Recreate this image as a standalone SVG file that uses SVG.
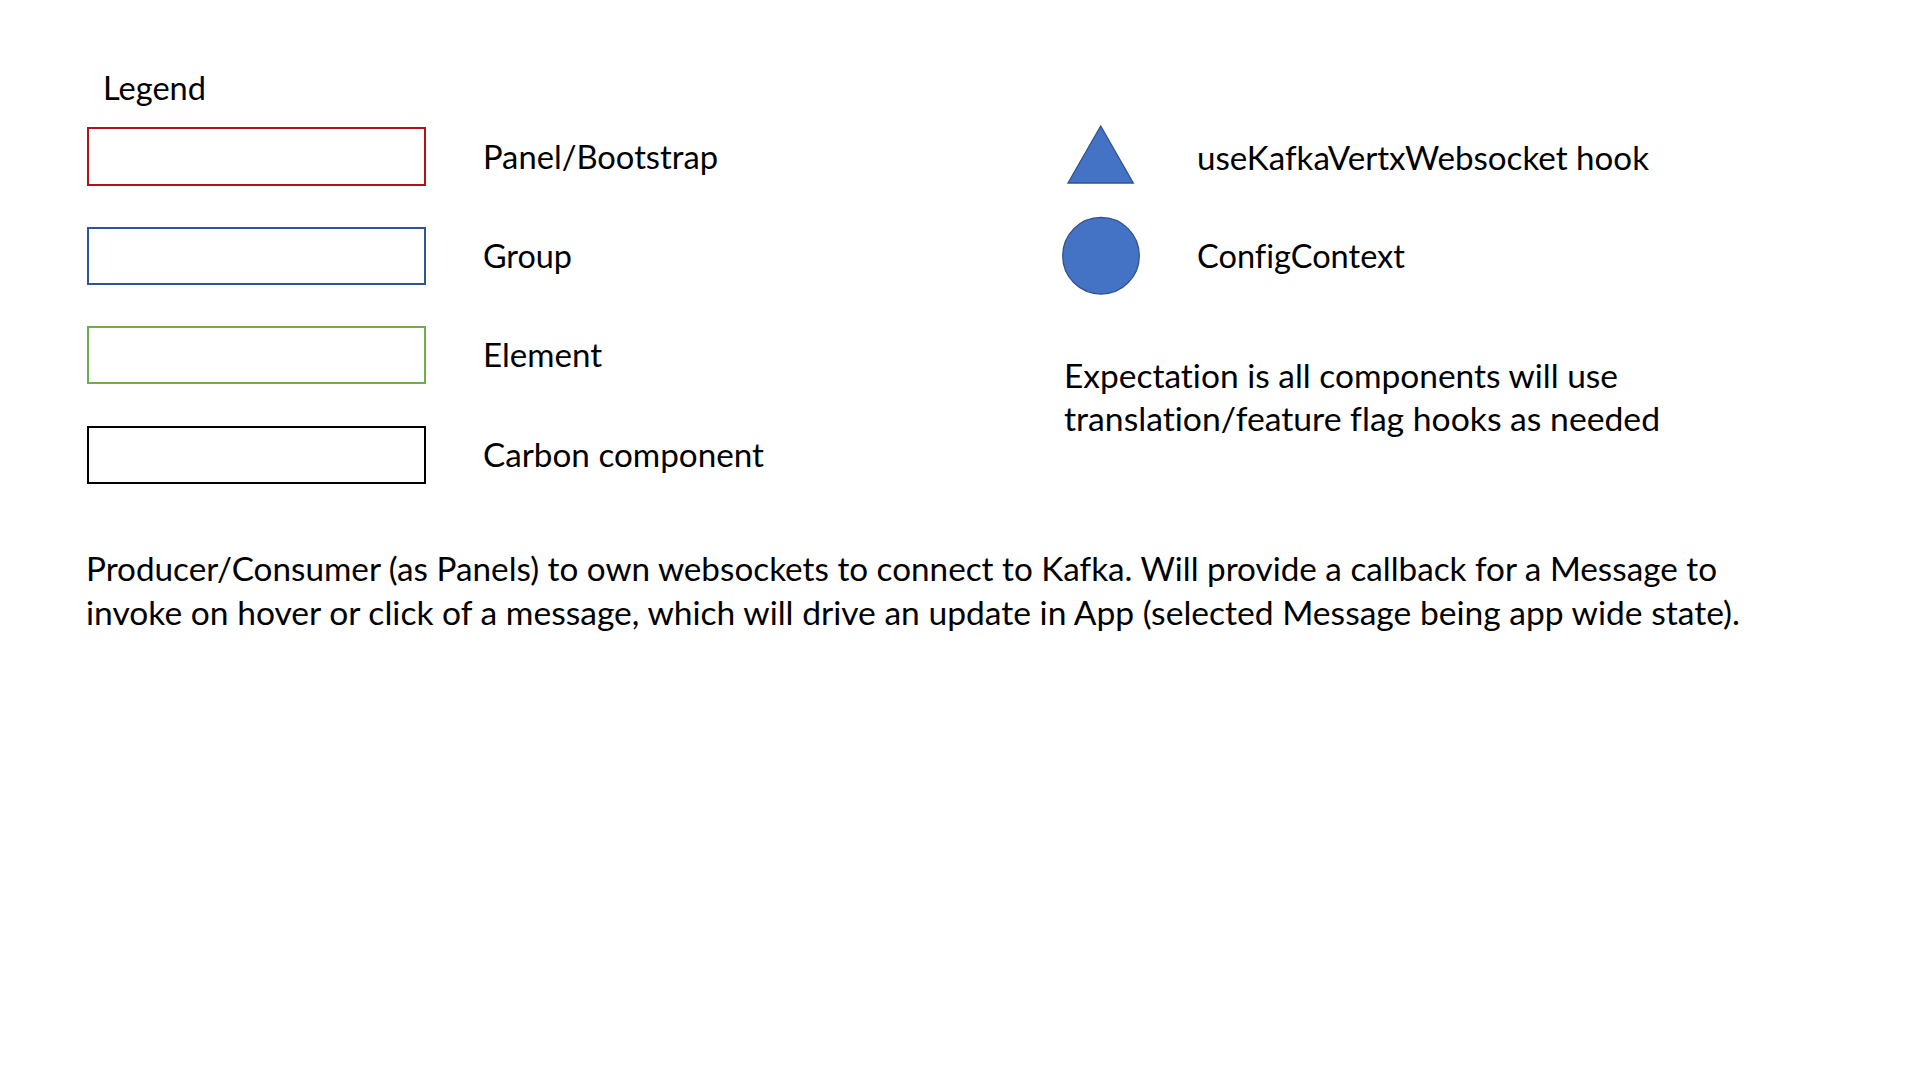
<svg xmlns="http://www.w3.org/2000/svg" width="1920" height="1080" viewBox="0 0 1920 1080">
<style>
text { font-family: "Lato", "Liberation Sans", sans-serif; font-size: 33px; fill: #000; font-variant-ligatures: none; }
.box { fill: none; stroke-width: 2; }
.shape { fill: #4472C4; stroke: #2F528F; stroke-width: 1.3; }
</style>
<rect x="0" y="0" width="1920" height="1080" fill="#FFFFFF"/>
<g id="legend-title">
<text x="103" y="100" textLength="103" lengthAdjust="spacingAndGlyphs">Legend</text>
</g>
<g id="legend-panel">
<rect class="box" x="88" y="128" width="337" height="57" stroke="#B0121C"/>
<text x="483" y="168.5" textLength="235" lengthAdjust="spacingAndGlyphs">Panel/Bootstrap</text>
</g>
<g id="legend-group">
<rect class="box" x="88" y="228" width="337" height="56" stroke="#2F5597"/>
<text x="483" y="267.5" textLength="89" lengthAdjust="spacingAndGlyphs">Group</text>
</g>
<g id="legend-element">
<rect class="box" x="88" y="327" width="337" height="56" stroke="#70AD47"/>
<text x="483" y="367" textLength="119" lengthAdjust="spacingAndGlyphs">Element</text>
</g>
<g id="legend-carbon">
<rect class="box" x="88" y="427" width="337" height="56" stroke="#000000" stroke-width="3.2"/>
<text x="483" y="467" textLength="281" lengthAdjust="spacingAndGlyphs">Carbon component</text>
</g>
<g id="legend-hook">
<polygon class="shape" points="1100.7,126 1068,183 1133.3,183"/>
<text x="1197" y="169.5" textLength="452" lengthAdjust="spacingAndGlyphs">useKafkaVertxWebsocket hook</text>
</g>
<g id="legend-config">
<circle class="shape" cx="1101" cy="255.7" r="38.3"/>
<text x="1197" y="267.5" textLength="208" lengthAdjust="spacingAndGlyphs">ConfigContext</text>
</g>
<g id="note-expectation">
<text x="1064" y="388" textLength="554" lengthAdjust="spacingAndGlyphs">Expectation is all components will use</text>
<text x="1064" y="430.5" textLength="596" lengthAdjust="spacingAndGlyphs">translation/feature flag hooks as needed</text>
</g>
<g id="note-producer-consumer">
<text x="86" y="581" textLength="1631" lengthAdjust="spacingAndGlyphs">Producer/Consumer (as Panels) to own websockets to connect to Kafka. Will provide a callback for a Message to</text>
<text x="86" y="624.5" textLength="1654" lengthAdjust="spacingAndGlyphs">invoke on hover or click of a message, which will drive an update in App (selected Message being app wide state).</text>
</g>
<g id="connectors"></g>
</svg>
